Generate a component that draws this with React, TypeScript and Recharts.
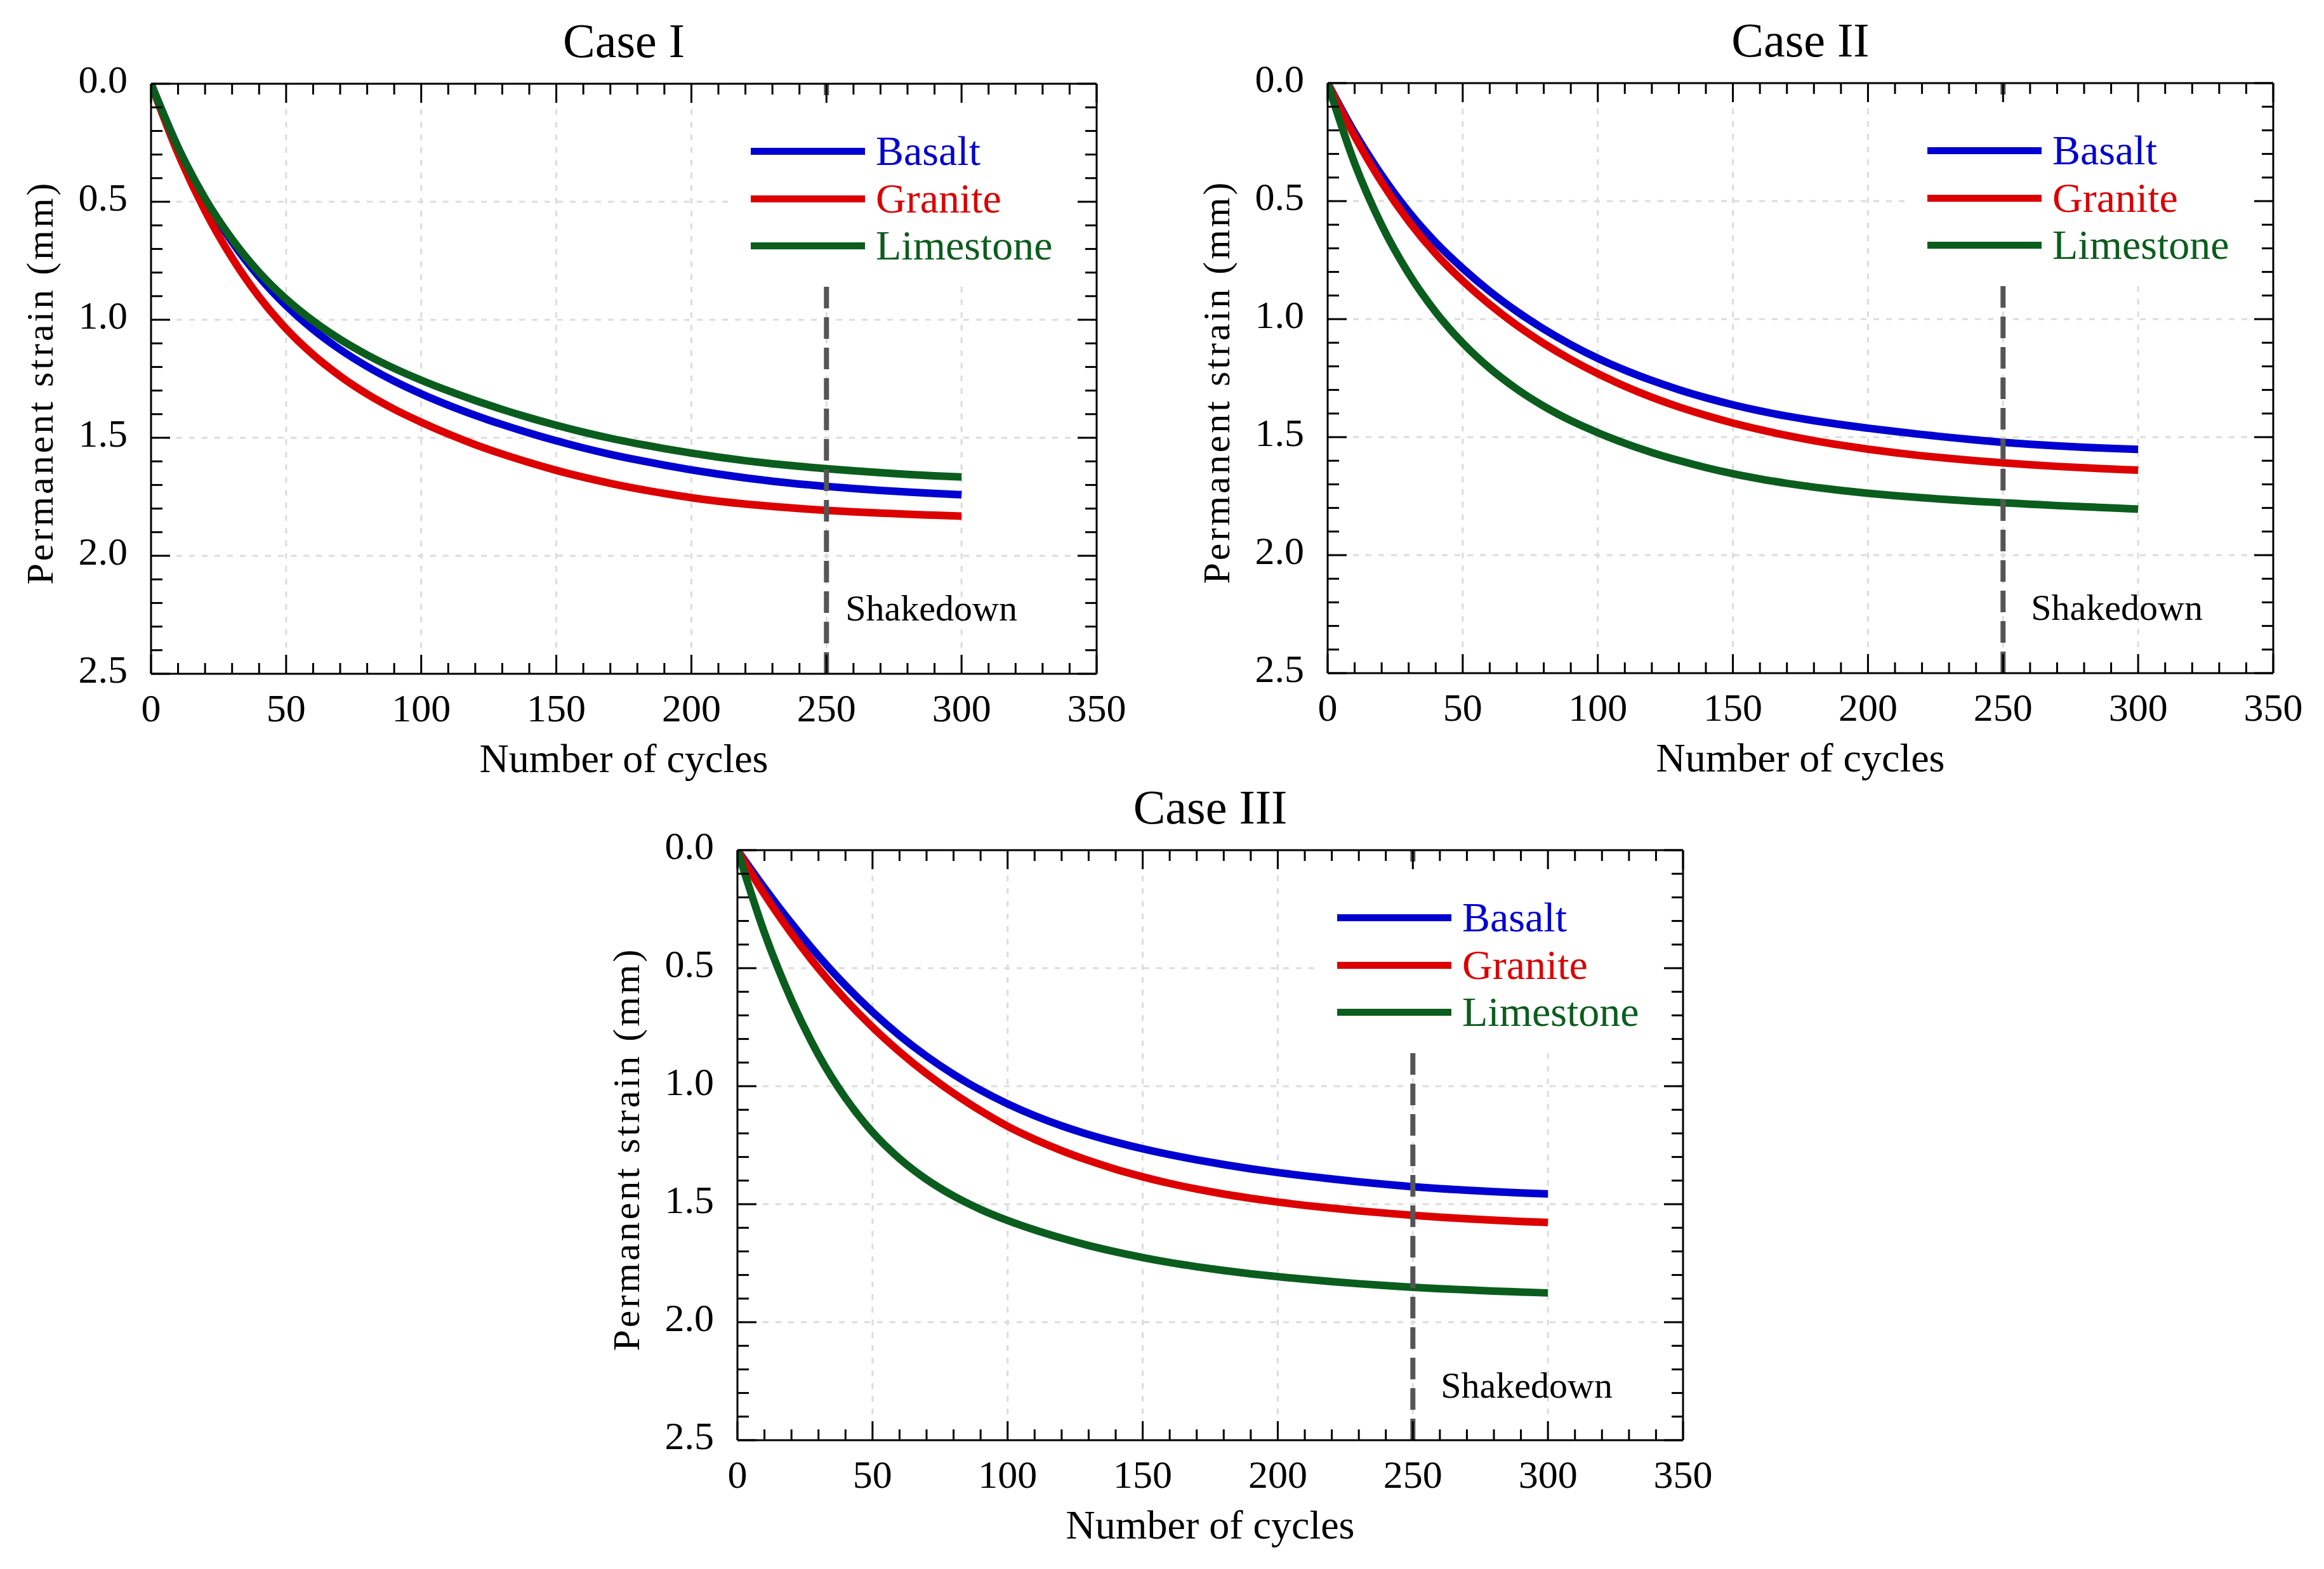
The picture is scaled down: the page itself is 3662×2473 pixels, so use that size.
import React from 'react';
import { LineChart, Line, XAxis, YAxis, CartesianGrid, ReferenceLine, Legend } from 'recharts';

// number of loading cycles at which the curves were read
const cycles = [0, 10, 20, 30, 40, 50, 60, 70, 80, 90, 100, 110, 120, 130, 140, 150, 160, 170, 180, 190, 200, 210, 220, 230, 240, 250, 260, 270, 280, 290, 300];

// Case I
const basaltI = [0, 0.27, 0.49, 0.67, 0.818, 0.94, 1.041, 1.126, 1.198, 1.26, 1.314, 1.362, 1.405, 1.444, 1.48, 1.513, 1.543, 1.57, 1.594, 1.616, 1.636, 1.654, 1.67, 1.684, 1.696, 1.706, 1.715, 1.723, 1.73, 1.736, 1.741];
const graniteI = [0, 0.295, 0.538, 0.738, 0.903, 1.038, 1.148, 1.239, 1.315, 1.379, 1.434, 1.484, 1.529, 1.569, 1.605, 1.638, 1.667, 1.693, 1.716, 1.736, 1.754, 1.769, 1.781, 1.791, 1.8, 1.808, 1.814, 1.819, 1.824, 1.828, 1.832];
const limestoneI = [0, 0.27, 0.486, 0.659, 0.799, 0.912, 1.005, 1.083, 1.149, 1.206, 1.256, 1.301, 1.342, 1.38, 1.415, 1.447, 1.476, 1.502, 1.525, 1.546, 1.565, 1.582, 1.597, 1.61, 1.621, 1.631, 1.64, 1.648, 1.655, 1.661, 1.666];

// Case II
const basaltII = [0, 0.21, 0.39, 0.545, 0.675, 0.785, 0.882, 0.967, 1.042, 1.108, 1.166, 1.216, 1.26, 1.299, 1.333, 1.363, 1.389, 1.411, 1.43, 1.447, 1.462, 1.476, 1.489, 1.501, 1.512, 1.522, 1.53, 1.537, 1.543, 1.548, 1.552];
const graniteII = [0, 0.225, 0.42, 0.585, 0.723, 0.838, 0.938, 1.026, 1.103, 1.171, 1.231, 1.284, 1.331, 1.372, 1.408, 1.44, 1.468, 1.493, 1.515, 1.534, 1.551, 1.566, 1.579, 1.59, 1.6, 1.609, 1.617, 1.624, 1.63, 1.635, 1.64];
const limestoneII = [0, 0.34, 0.602, 0.807, 0.97, 1.101, 1.208, 1.296, 1.369, 1.43, 1.481, 1.526, 1.565, 1.599, 1.629, 1.655, 1.677, 1.696, 1.712, 1.726, 1.738, 1.748, 1.757, 1.765, 1.772, 1.778, 1.784, 1.79, 1.795, 1.8, 1.805];

// Case III
const basaltIII = [0, 0.16, 0.31, 0.448, 0.573, 0.685, 0.785, 0.873, 0.95, 1.017, 1.075, 1.125, 1.168, 1.205, 1.237, 1.265, 1.29, 1.312, 1.332, 1.35, 1.366, 1.38, 1.393, 1.405, 1.416, 1.426, 1.434, 1.441, 1.447, 1.452, 1.456];
const graniteIII = [0, 0.187, 0.353, 0.501, 0.633, 0.75, 0.854, 0.947, 1.03, 1.104, 1.17, 1.225, 1.273, 1.315, 1.352, 1.384, 1.412, 1.436, 1.457, 1.475, 1.491, 1.505, 1.517, 1.528, 1.538, 1.547, 1.555, 1.562, 1.568, 1.573, 1.577];
const limestoneIII = [0, 0.35, 0.635, 0.867, 1.05, 1.195, 1.307, 1.395, 1.465, 1.522, 1.569, 1.609, 1.644, 1.675, 1.702, 1.726, 1.747, 1.765, 1.781, 1.795, 1.807, 1.818, 1.828, 1.837, 1.845, 1.852, 1.858, 1.863, 1.868, 1.872, 1.876];

const seriesNames = ['Basalt', 'Granite', 'Limestone'];
const seriesColors = ['#0000d0', '#dc0000', '#0b5d1e'];

const xTicks = [0, 10, 20, 30, 40, 50, 60, 70, 80, 90, 100, 110, 120, 130, 140, 150, 160, 170, 180, 190, 200, 210, 220, 230, 240, 250, 260, 270, 280, 290, 300, 310, 320, 330, 340, 350];
const xMajor = [0, 50, 100, 150, 200, 250, 300, 350];
const yTicks = [0, 0.1, 0.2, 0.3, 0.4, 0.5, 0.6, 0.7, 0.8, 0.9, 1.0, 1.1, 1.2, 1.3, 1.4, 1.5, 1.6, 1.7, 1.8, 1.9, 2.0, 2.1, 2.2, 2.3, 2.4, 2.5];
const yMajor = [0, 0.5, 1.0, 1.5, 2.0, 2.5];
const xGrid = [50, 100, 150, 200, 250, 300];
const yGrid = [0.5, 1.0, 1.5, 2.0];
const shakedownAt = 250;

const FONT = '"Liberation Serif", "Times New Roman", serif';
const PLOT_W = 1490;
const PLOT_H = 930;
const PAD_L = 230;
const PAD_T = 130;
const PAD_R = 60;
const PAD_B = 180;
const CHART_W = PAD_L + PLOT_W + PAD_R;
const CHART_H = PAD_T + PLOT_H + PAD_B;

const isMajor = (v: number, list: number[]) => list.some((m) => Math.abs(m - v) < 1e-6);

const BottomTick = (props: any) => {
  const { x, y, payload } = props;
  const major = isMajor(payload.value, xMajor);
  return (
    <g>
      <line x1={x} y1={y} x2={x} y2={y - (major ? 30 : 17)} stroke="#000" strokeWidth={3} />
      {major && (
        <text x={x} y={y + 54} textAnchor="middle" dominantBaseline="central" fontSize={62} fontFamily={FONT} fill="#000">
          {payload.value}
        </text>
      )}
    </g>
  );
};

const TopTick = (props: any) => {
  const { x, y, payload } = props;
  const major = isMajor(payload.value, xMajor);
  return <line x1={x} y1={y} x2={x} y2={y + (major ? 30 : 17)} stroke="#000" strokeWidth={3} />;
};

const LeftTick = (props: any) => {
  const { x, y, payload } = props;
  const major = isMajor(payload.value, yMajor);
  return (
    <g>
      <line x1={x} y1={y} x2={x + (major ? 30 : 18)} y2={y} stroke="#000" strokeWidth={3} />
      {major && (
        <text x={x - 37} y={y - 7} textAnchor="end" dominantBaseline="central" fontSize={62} fontFamily={FONT} fill="#000">
          {payload.value.toFixed(1)}
        </text>
      )}
    </g>
  );
};

const RightTick = (props: any) => {
  const { x, y, payload } = props;
  const major = isMajor(payload.value, yMajor);
  return <line x1={x} y1={y} x2={x - (major ? 30 : 18)} y2={y} stroke="#000" strokeWidth={3} />;
};

const renderLegend = (props: any) => {
  const rows = [76, 151, 225];
  return (
    <div style={{ position: 'relative', width: '100%', height: '100%', background: '#fff' }}>
      {(props.payload || []).map((entry: any, i: number) => (
        <React.Fragment key={entry.value}>
          <div style={{ position: 'absolute', left: 35, top: rows[i] - 5.5, width: 180, height: 11, background: entry.color }} />
          <div
            style={{
              position: 'absolute',
              left: 232,
              top: rows[i] - 33.5,
              fontSize: 66,
              lineHeight: '66px',
              fontFamily: FONT,
              color: entry.color,
              whiteSpace: 'nowrap',
            }}
          >
            {entry.value}
          </div>
        </React.Fragment>
      ))}
    </div>
  );
};

type PanelProps = {
  title: string;
  left: number;
  top: number;
  basalt: number[];
  granite: number[];
  limestone: number[];
  shakeDx: number;
  shakeDy: number;
};

const Panel = ({ title, left, top, basalt, granite, limestone, shakeDx, shakeDy }: PanelProps) => {
  const rows = cycles.map((c, i) => ({ cycle: c, Basalt: basalt[i], Granite: granite[i], Limestone: limestone[i] }));

  const shakedownLabel = (p: any) => {
    const vb = p.viewBox || { x: PAD_L + (PLOT_W * shakedownAt) / 350, y: PAD_T, height: PLOT_H };
    return (
      <text
        x={vb.x + shakeDx}
        y={vb.y + vb.height + shakeDy}
        dominantBaseline="central"
        fontSize={58}
        fontFamily={FONT}
        fill="#000"
      >
        Shakedown
      </text>
    );
  };

  return (
    <div style={{ position: 'absolute', left: left - PAD_L, top: top - PAD_T, width: CHART_W, height: CHART_H }}>
      <div
        style={{
          position: 'absolute',
          left: PAD_L,
          width: PLOT_W,
          top: PAD_T - 68 - 38,
          height: 76,
          lineHeight: '76px',
          textAlign: 'center',
          fontSize: 76,
          fontFamily: FONT,
          color: '#000',
        }}
      >
        {title}
      </div>
      <div
        style={{
          position: 'absolute',
          left: PAD_L,
          width: PLOT_W,
          top: PAD_T + PLOT_H + 134 - 32,
          height: 64,
          lineHeight: '64px',
          textAlign: 'center',
          fontSize: 64,
          fontFamily: FONT,
          color: '#000',
        }}
      >
        Number of cycles
      </div>
      <div
        style={{
          position: 'absolute',
          left: 55 - PLOT_H / 2,
          top: PAD_T + PLOT_H / 2 + 6 - 30,
          width: PLOT_H,
          height: 60,
          lineHeight: '60px',
          textAlign: 'center',
          fontSize: 60,
          letterSpacing: 4,
          fontFamily: FONT,
          color: '#000',
          transform: 'rotate(-90deg)',
          whiteSpace: 'nowrap',
        }}
      >
        Permanent strain (mm)
      </div>
      <LineChart
        width={CHART_W}
        height={CHART_H}
        data={rows}
        margin={{ top: PAD_T - 1, right: PAD_R - 1, left: 0, bottom: 0 }}
        style={{ position: 'absolute', left: 0, top: 0 }}
      >
        <CartesianGrid
          stroke="#dcdcdc"
          strokeWidth={3}
          strokeDasharray="9 11"
          horizontalValues={yGrid}
          verticalValues={xGrid}
        />
        <XAxis
          dataKey="cycle"
          type="number"
          domain={[0, 350]}
          allowDataOverflow
          ticks={xTicks}
          interval={0}
          height={PAD_B}
          tickSize={0}
          tickMargin={0}
          tickLine={false}
          axisLine={{ stroke: '#000', strokeWidth: 3 }}
          tick={<BottomTick />}
        />
        <XAxis
          xAxisId="top"
          orientation="top"
          dataKey="cycle"
          type="number"
          domain={[0, 350]}
          allowDataOverflow
          ticks={xTicks}
          interval={0}
          height={1}
          tickSize={0}
          tickMargin={0}
          tickLine={false}
          axisLine={{ stroke: '#000', strokeWidth: 3 }}
          tick={<TopTick />}
        />
        <YAxis
          type="number"
          domain={[0, 2.5]}
          reversed
          allowDataOverflow
          ticks={yTicks}
          interval={0}
          width={PAD_L}
          tickSize={0}
          tickMargin={0}
          tickLine={false}
          axisLine={{ stroke: '#000', strokeWidth: 3 }}
          tick={<LeftTick />}
        />
        <YAxis
          yAxisId="right"
          orientation="right"
          type="number"
          domain={[0, 2.5]}
          reversed
          allowDataOverflow
          ticks={yTicks}
          interval={0}
          width={1}
          tickSize={0}
          tickMargin={0}
          tickLine={false}
          axisLine={{ stroke: '#000', strokeWidth: 3 }}
          tick={<RightTick />}
        />
        {seriesNames.map((name, i) => (
          <Line
            key={name}
            type="monotone"
            dataKey={name}
            name={name}
            stroke={seriesColors[i]}
            strokeWidth={12}
            dot={false}
            activeDot={false}
            isAnimationActive={false}
          />
        ))}
        <ReferenceLine
          x={shakedownAt}
          stroke="#555"
          strokeWidth={8}
          strokeDasharray="34 14"
          label={shakedownLabel}
        />
        <Legend
          layout="vertical"
          align="center"
          verticalAlign="middle"
          content={renderLegend}
          wrapperStyle={{ left: PAD_L + 910, top: PAD_T + 30, width: 545, height: 285, margin: 0 }}
        />
      </LineChart>
    </div>
  );
};

const App = () => (
  <div style={{ position: 'absolute', left: 0, top: 0, width: 3662, height: 2473, background: '#fff' }}>
    <Panel title="Case I" left={238} top={132} basalt={basaltI} granite={graniteI} limestone={limestoneI} shakeDx={30} shakeDy={-104} />
    <Panel title="Case II" left={2092} top={131} basalt={basaltII} granite={graniteII} limestone={limestoneII} shakeDx={44} shakeDy={-104} />
    <Panel title="Case III" left={1162} top={1340} basalt={basaltIII} granite={graniteIII} limestone={limestoneIII} shakeDx={44} shakeDy={-87} />
  </div>
);

export default App;
